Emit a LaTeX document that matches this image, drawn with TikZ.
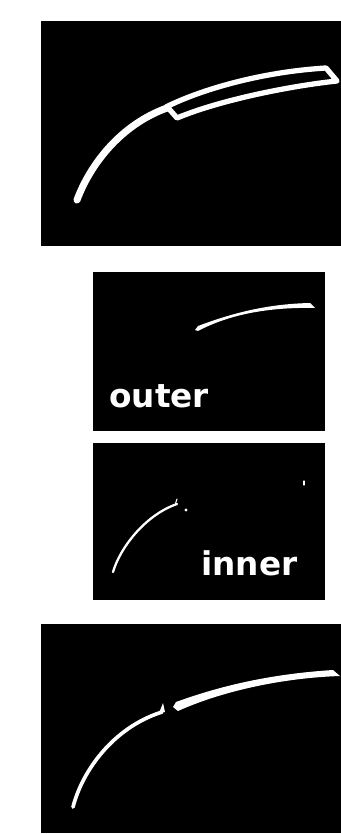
\documentclass[tikz,border=0pt]{standalone}
\usepackage{fontspec}
\setsansfont{DejaVu Sans}
\usepackage{tikz}
\usetikzlibrary{positioning}

\begin{document}
\begin{tikzpicture}[x=0.02cm, y=-0.02cm,
  panel/.style={fill=black},
  seg/.style={draw=white, line cap=round, line join=round},
  lbl/.style={text=white, font=\sffamily\bfseries\fontsize{18.6}{20}\selectfont,
     anchor=base west, inner sep=0pt}]
\useasboundingbox (0,0) rectangle (341,834);
\fill[white] (0,0) rectangle (341,834);
% four panels
\fill[panel] (41,21)  rectangle (341,246);
\fill[panel] (93,272) rectangle (325,431);
\fill[panel] (93,443) rectangle (325,600);
\fill[panel] (41,624) rectangle (341,833);
% top: full segmentation
\draw[seg, line width=4pt] (77,200) .. controls (90,165) and (120,125) .. (167,108);
\draw[seg, line width=3pt] (166,107) .. controls (200,90) and (260,72) .. (326,68)
  -- (337,81) .. controls (290,86) and (220,100) .. (177,118) -- (170,110) -- cycle;
% outer part
\fill[white] (195,330) -- (198,326) .. controls (230,314) and (265,304) .. (310,303)
  -- (315,308) .. controls (270,307) and (230,314) .. (198,331) -- cycle;
\node[lbl] (outerlbl) at (109,407) {outer};
% inner part
\draw[seg, line width=1.3pt] (113,572) .. controls (120,548) and (145,515) .. (177,504);
\draw[seg, line width=0.6pt] (175,505) -- (177,499);
\fill[white] (186,510) circle (0.9pt);
\draw[seg, line width=0.6pt] (304,481) -- (304,485);
\node[lbl] (innerlbl) at (201,575) {inner};
% bottom: combined
\draw[seg, line width=2.1pt] (73,807) .. controls (82,772) and (112,728) .. (162,712);
\fill[white] (159,713) -- (163,703) -- (165,712) -- cycle;
\fill[white] (173,707) -- (176,702) .. controls (220,686) and (270,674) .. (333,670)
  -- (340,676) .. controls (280,678) and (220,692) .. (178,711) -- cycle;
\end{tikzpicture}
\end{document}
